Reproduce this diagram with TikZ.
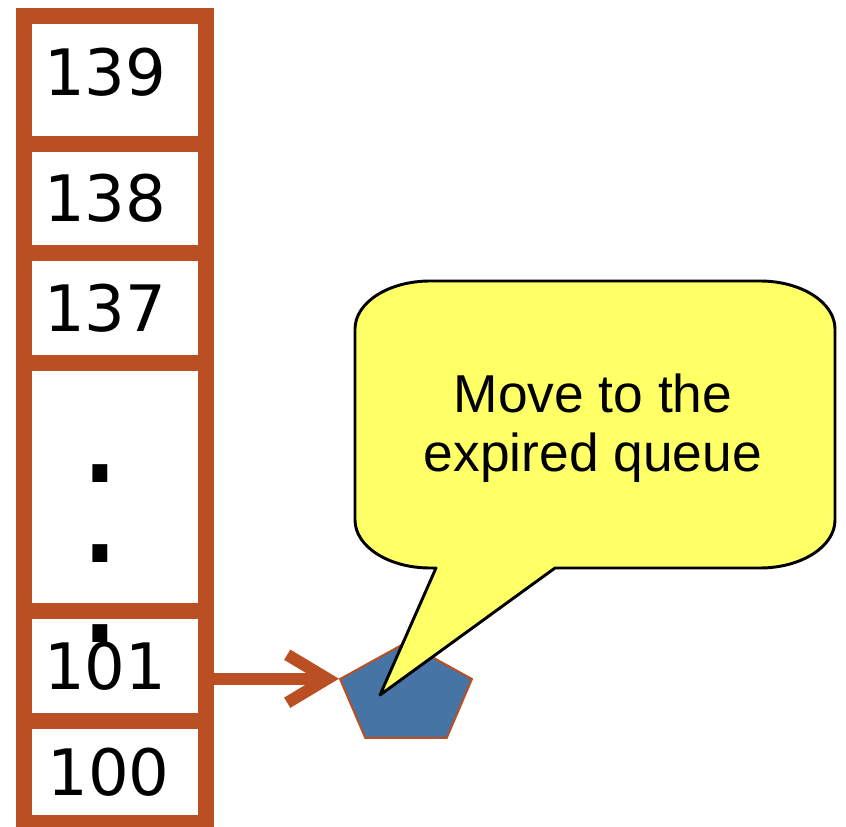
\documentclass[tikz,border=0pt]{standalone}
\usepackage{fontspec}
\setmainfont{DejaVu Sans}
\newfontfamily\notefont{Liberation Sans}
\usetikzlibrary{arrows.meta}
\usetikzlibrary{shapes.geometric}

\definecolor{rust}{RGB}{185,79,35}
\definecolor{steel}{RGB}{70,116,165}
\definecolor{lemon}{RGB}{255,255,102}

\tikzset{
  slot/.style={draw=rust, line width=12pt, inner xsep=15pt, inner ysep=0pt,
    text width=106.5pt, align=left, minimum width=136.5pt,
    font=\fontsize{48pt}{58pt}\selectfont},
  gapdots/.style={inner sep=0pt, align=center, font=\fontsize{108pt}{60pt}\selectfont},
  task/.style={regular polygon, regular polygon sides=5, minimum size=104pt,
    inner sep=0pt, fill=steel, draw=rust, line width=1.5pt},
  link/.style={draw=rust, line width=9pt, -{Straight Barb[length=30pt, width=36pt]}},
  bubble/.style={fill=lemon, draw=black, line width=2.2pt, line join=round},
  notetext/.style={align=center, font=\notefont\fontsize{40pt}{44pt}\selectfont}
}

\begin{document}
\begin{tikzpicture}[x=0.75pt, y=-0.75pt]
            \useasboundingbox (0,0) rectangle (846,827);
            % priority array
            \node[slot, minimum height=96pt, text depth=12pt] (Q139) at (115,80) {139};
            \node[slot, minimum height=81.75pt] (Q138) at (115,198.5) {138};
            \node[slot, minimum height=82.5pt] (Q137) at (115,308) {137};
            \node[slot, minimum height=186pt] (Qgap) at (115,487) {};
            \node[slot, minimum height=82.5pt] (Q101) at (115,666) {101};
            \node[slot, minimum height=76.5pt, inner xsep=17.5pt, text width=101.5pt] (Q100) at (115,772) {100};
            \node[gapdots] (dots) at (100,553.5) {.\\.\\.};
            % task
            \begin{scope}[shift={(406,695.3)}, yscale=0.76, transform shape]
              \node[task] (T) at (0,0) {};
            \end{scope}
            \draw[link] (Q101.east |- T.corner 2) -- (T.corner 2);
            % callout
            \coordinate (tip) at (380,695);
            \draw[bubble] (430,281) -- (760,281)
              .. controls (801.4,281) and (835,302.5) .. (835,329) -- (835,520)
              .. controls (835,546.5) and (801.4,568) .. (760,568) -- (555,568)
              -- (tip) -- (436,568) -- (430,568)
              .. controls (388.6,568) and (355,546.5) .. (355,520) -- (355,329)
              .. controls (355,302.5) and (388.6,281) .. cycle;
            \node[notetext] (note) at (593,428) {Move to the\\expired queue};
        \end{tikzpicture}
\end{document}
